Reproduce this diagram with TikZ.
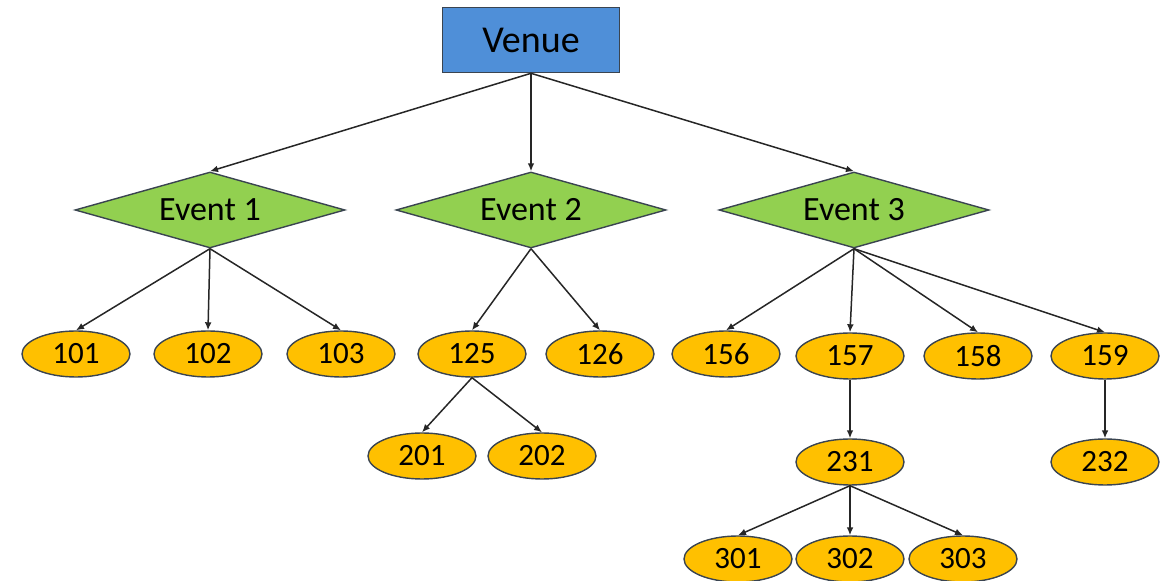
\documentclass[tikz,border=0pt]{standalone}
\usepackage{fontspec}
\setmainfont{Carlito}
\usetikzlibrary{arrows.meta,positioning,shapes.geometric}

\definecolor{venueblue}{HTML}{4F8FD8}
\definecolor{eventgreen}{HTML}{92D050}
\definecolor{idorange}{HTML}{FFC000}
\definecolor{edgegray}{HTML}{3A4450}

\begin{document}
\begin{tikzpicture}[
    >=Latex,
    on grid,
    venue/.style={draw=edgegray, line width=0.8pt, fill=venueblue, rectangle, minimum width=88.5pt, minimum height=32.5pt, inner sep=0pt, font=\fontsize{19}{21}\selectfont},
    event/.style={draw=edgegray, line width=0.7pt, fill=eventgreen, diamond, aspect=3.55, minimum width=135pt, minimum height=38pt, inner sep=0pt, font=\fontsize{17}{19}\selectfont},
    leaf/.style={draw=edgegray, line width=0.7pt, fill=idorange, ellipse, minimum width=54pt, minimum height=23pt, inner sep=0pt, font=\fontsize{15.5}{17}\selectfont},
    line/.style={-{Latex[length=4pt,width=3.4pt]}, line width=0.75pt, draw=black!85}
]

\useasboundingbox (-265.5pt,20pt) rectangle (320pt,-270.5pt);

% Root
\node[venue] (venue) at (0,0) {Venue};

% Events
\node[event, below=85pt of venue] (ev2) {Event 2};
\node[event, left=160.5pt of ev2] (ev1) {Event 1};
\node[event, right=161.5pt of ev2] (ev3) {Event 3};

% First level ids
\node[leaf, below left=72pt and 67pt of ev1] (n101) {101};
\node[leaf, right=66pt of n101] (n102) {102};
\node[leaf, right=66.5pt of n102] (n103) {103};
\node[leaf, below left=72pt and 29.5pt of ev2] (n125) {125};
\node[leaf, right=64pt of n125] (n126) {126};
\node[leaf, below left=72pt and 64pt of ev3] (n156) {156};
\node[leaf, right=62pt of n156, yshift=-1pt] (n157) {157};
\node[leaf, right=64pt of n157] (n158) {158};
\node[leaf, right=63.5pt of n158] (n159) {159};

% Second level ids
\node[leaf, below left=51pt and 25pt of n125] (n201) {201};
\node[leaf, right=60pt of n201] (n202) {202};
\node[leaf, below=53pt of n157] (n231) {231};
\node[leaf, below=53pt of n159] (n232) {232};

% Third level ids
\node[leaf, below=48.5pt of n231] (n302) {302};
\node[leaf, left=56pt of n302] (n301) {301};
\node[leaf, right=56.5pt of n302] (n303) {303};

% Venue to events
\draw[line] (venue.south) -- (ev1.north);
\draw[line] (venue.south) -- (ev2.north);
\draw[line] (venue.south) -- (ev3.north);

% Events to ids
\draw[line] (ev1.south) -- (n101.north);
\draw[line] (ev1.south) -- (n102.north);
\draw[line] (ev1.south) -- (n103.north);
\draw[line] (ev2.south) -- (n125.north);
\draw[line] (ev2.south) -- (n126.north);
\draw[line] (ev3.south) -- (n156.north);
\draw[line] (ev3.south) -- (n157.north);
\draw[line] (ev3.south) -- (n158.north);
\draw[line] (ev3.south) -- (n159.north);

% Deeper levels
\draw[line] (n125.south) -- (n201.north);
\draw[line] (n125.south) -- (n202.north);
\draw[line] (n157.south) -- (n231.north);
\draw[line] (n159.south) -- (n232.north);
\draw[line] (n231.south) -- (n301.north);
\draw[line] (n231.south) -- (n302.north);
\draw[line] (n231.south) -- (n303.north);

\end{tikzpicture}
\end{document}
